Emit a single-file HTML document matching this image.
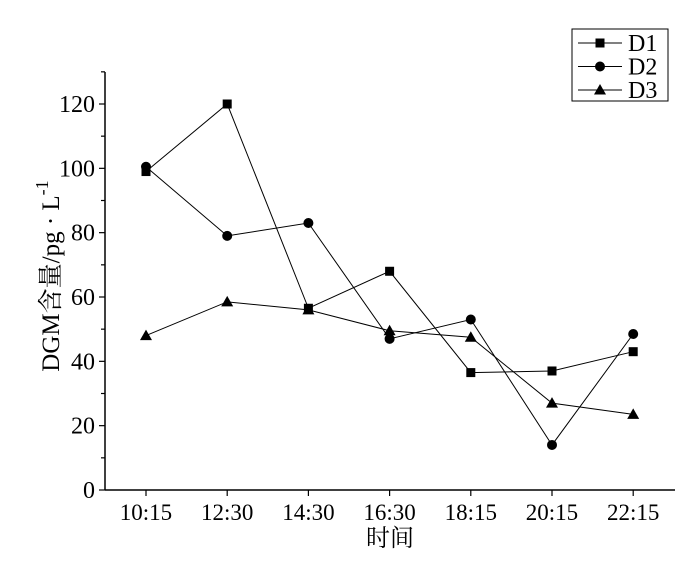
<!DOCTYPE html>
<html><head><meta charset="utf-8"><style>
body{margin:0;background:#fff}
svg text{font-family:"Liberation Serif","Noto Serif CJK SC",serif;fill:#000}
</style></head><body>
<svg id="chart" width="700" height="562" viewBox="0 0 700 562" xmlns="http://www.w3.org/2000/svg">
<g id="axes"></g><g id="series"></g><g id="legend"></g>
</svg>
<script>
const categories=["10:15","12:30","14:30","16:30","18:15","20:15","22:15"];
const d1=[99,120,56.5,68,36.5,37,43];
const d2=[100.5,79,83,47,53,14,48.5];
const d3=[48,58.5,56,49.5,47.5,27,23.5];
const yTicks=[0,20,40,60,80,100,120];
const seriesNames=["D1","D2","D3"];
const NS="http://www.w3.org/2000/svg";
const X0=105,X1=675,Y0=490,YTOP=72;
const xs=i=>146+i*81.2;
const ys=v=>Y0-v*(386/120);
function mk(tag,at,parent){const e=document.createElementNS(NS,tag);for(const k in at)e.setAttribute(k,at[k]);parent.appendChild(e);return e;}
const ax=document.getElementById('axes');
const yl=mk('line',{x1:X0,y1:YTOP,x2:X0,y2:Y0,stroke:'#000','stroke-width':1.5},ax);


const xl=mk('line',{x1:X0,y1:Y0,x2:X1,y2:Y0,stroke:'#000','stroke-width':1.5},ax);


for(let v=0;v<=130;v+=10){const major=v%20===0;mk('line',{x1:X0-(major?6:4),y1:ys(v),x2:X0,y2:ys(v),stroke:'#000','stroke-width':1.2},ax);}
yTicks.forEach(v=>{const t=mk('text',{x:X0-10,y:ys(v)+8,'text-anchor':'end','font-size':24},ax);t.textContent=v;

});
categories.forEach((c,i)=>{mk('line',{x1:xs(i),y1:Y0,x2:xs(i),y2:Y0+6,stroke:'#000','stroke-width':1.2},ax);
const t=mk('text',{x:xs(i),y:Y0+30,'text-anchor':'middle','font-size':23},ax);t.textContent=c;

});
const xt=mk('text',{x:390,y:546,'text-anchor':'middle','font-size':24},ax);xt.textContent="时间";


const yt=mk('text',{x:0,y:0,'text-anchor':'middle','font-size':25,transform:'translate(59,276) rotate(-90)'},ax);
yt.innerHTML='DGM含量/pg · L<tspan dy="-11" font-size="18">-1</tspan>';


function marker(type,x,y,p){let e;
 if(type===0)e=mk('rect',{x:x-4.5,y:y-4.5,width:9,height:9,fill:'#000'},p);
 else if(type===1)e=mk('circle',{cx:x,cy:y,r:5,fill:'#000'},p);
 else e=mk('polygon',{points:`${x},${y-6} ${x-6},${y+4.5} ${x+6},${y+4.5}`,fill:'#000'},p);
 return e;}
const sg=document.getElementById('series');
[d1,d2,d3].forEach((data,s)=>{
 const g=mk('g',{},sg);
 
 
 const l=mk('polyline',{points:data.map((v,i)=>xs(i)+','+ys(v)).join(' '),fill:'none',stroke:'#000','stroke-width':1},g);
 
 
 data.forEach((v,i)=>{const m=marker(s,xs(i),ys(v),g);
  
  });
});
const lg=document.getElementById('legend');


mk('rect',{x:572,y:29,width:96,height:72,fill:'#fff',stroke:'#000','stroke-width':1},lg);
seriesNames.forEach((n,s)=>{const y=43+s*23.5;
 const g=mk('g',{},lg);
 
 
 mk('line',{x1:578,y1:y,x2:622,y2:y,stroke:'#000','stroke-width':1},g);
 marker(s,600,y,g);
 const t=mk('text',{x:628,y:y+8,'font-size':24},g);t.textContent=n;});
</script>
</body></html>
